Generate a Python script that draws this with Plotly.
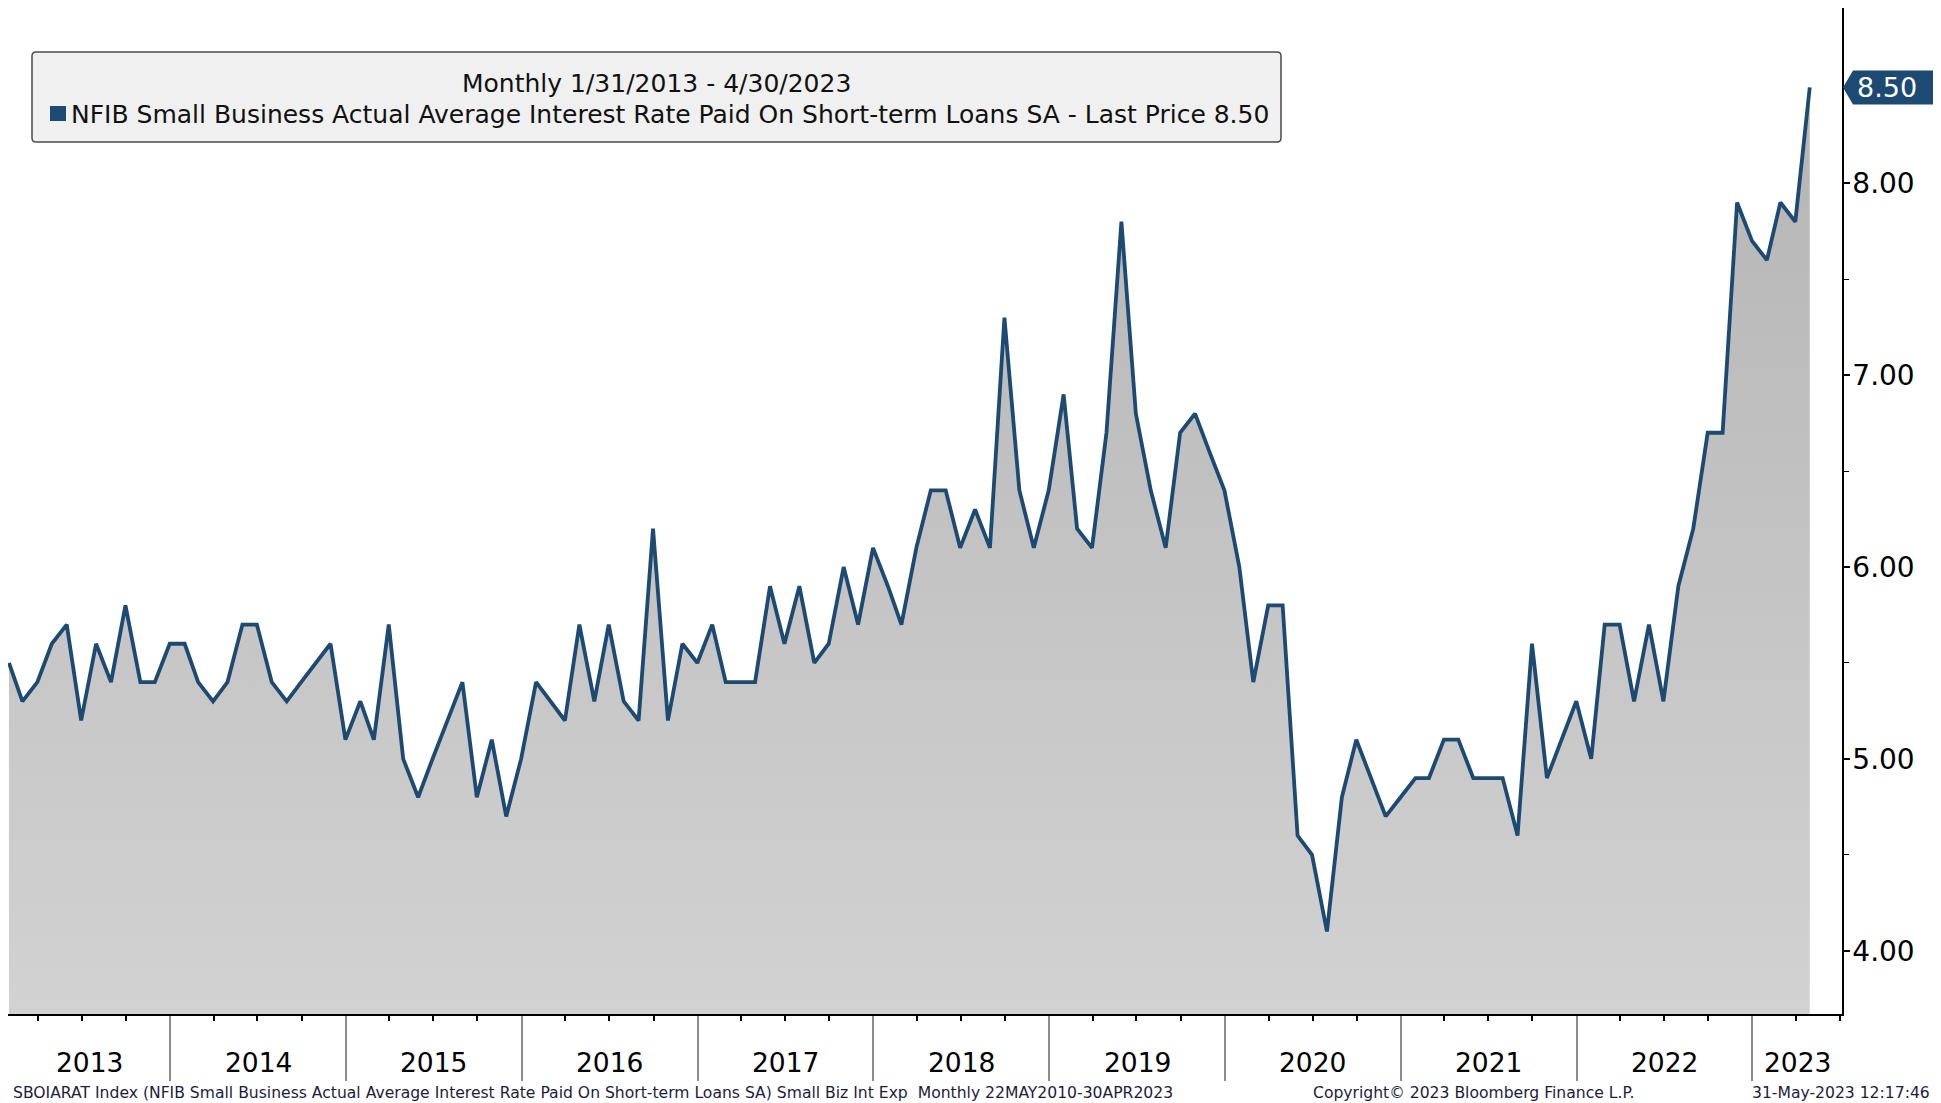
import pandas as pd
import plotly.graph_objects as go

# ---------------- data ----------------
start_month = "2013-01-31"
rates = [
    5.5, 5.3, 5.4, 5.6, 5.7, 5.2, 5.6, 5.4, 5.8, 5.4, 5.4, 5.6,   # 2013
    5.6, 5.4, 5.3, 5.4, 5.7, 5.7, 5.4, 5.3, 5.4, 5.5, 5.6, 5.1,   # 2014
    5.3, 5.1, 5.7, 5.0, 4.8, 5.0, 5.2, 5.4, 4.8, 5.1, 4.7, 5.0,   # 2015
    5.4, 5.3, 5.2, 5.7, 5.3, 5.7, 5.3, 5.2, 6.2, 5.2, 5.6, 5.5,   # 2016
    5.7, 5.4, 5.4, 5.4, 5.9, 5.6, 5.9, 5.5, 5.6, 6.0, 5.7, 6.1,   # 2017
    5.9, 5.7, 6.1, 6.4, 6.4, 6.1, 6.3, 6.1, 7.3, 6.4, 6.1, 6.4,   # 2018
    6.9, 6.2, 6.1, 6.7, 7.8, 6.8, 6.4, 6.1, 6.7, 6.8, 6.6, 6.4,   # 2019
    6.0, 5.4, 5.8, 5.8, 4.6, 4.5, 4.1, 4.8, 5.1, 4.9, 4.7, 4.8,   # 2020
    4.9, 4.9, 5.1, 5.1, 4.9, 4.9, 4.9, 4.6, 5.6, 4.9, 5.1, 5.3,   # 2021
    5.0, 5.7, 5.7, 5.3, 5.7, 5.3, 5.9, 6.2, 6.7, 6.7, 7.9, 7.7,   # 2022
    7.6, 7.9, 7.8, 8.5,                                           # 2023
]
dates = pd.date_range(start_month, periods=len(rates), freq=pd.offsets.MonthEnd())

years = list(range(2013, 2024))
year_labels = [str(y) for y in years]
y_major = [4, 5, 6, 7, 8]
y_minor = [4.5, 5.5, 6.5, 7.5]
y_labels = [f"{v:.2f}" for v in y_major]

legend_title = "Monthly 1/31/2013 - 4/30/2023"
series_name = "NFIB Small Business Actual Average Interest Rate Paid On Short-term Loans SA"
footer_left = ("SBOIARAT Index (NFIB Small Business Actual Average Interest Rate Paid On "
               "Short-term Loans SA) Small Biz Int Exp  Monthly 22MAY2010-30APR2023")
footer_mid = "Copyright\u00a9 2023 Bloomberg Finance L.P."
footer_right = "31-May-2023 12:17:46"

# ---------------- layout constants ----------------
OFF = 8                      # page body margin
W, H = 1941 - OFF, 1103 - OFF
ML, MR, MT, MB = 0, 99, 0, 89
PW = W - ML - MR
PH = H - MT - MB
YMIN, YMAX = 3.670, 8.914
XMIN, XMAX = pd.Timestamp("2013-01-29"), pd.Timestamp("2023-07-06")

NAVY = "#1d4a72"
FONT = "DejaVu Sans"


def px(X):  # page pixel -> paper x
    return (X - OFF - ML) / PW


def py(Y):  # page pixel -> paper y
    return (OFF + H - MB - Y) / PH


def rounded_rect(X0, Y0, X1, Y1, r):
    x0, x1, y0, y1 = px(X0), px(X1), py(Y1), py(Y0)
    rx, ry = r / PW, r / PH
    return (f"M {x0 + rx},{y0} L {x1 - rx},{y0} Q {x1},{y0} {x1},{y0 + ry} "
            f"L {x1},{y1 - ry} Q {x1},{y1} {x1 - rx},{y1} L {x0 + rx},{y1} "
            f"Q {x0},{y1} {x0},{y1 - ry} L {x0},{y0 + ry} Q {x0},{y0} {x0 + rx},{y0} Z")


fig = go.Figure()
fig.add_trace(go.Scatter(
    x=dates, y=rates, mode="lines",
    line=dict(color=NAVY, width=3.8),
    fill="tozeroy",
    fillgradient=dict(type="vertical",
                      colorscale=[[0, "#d2d2d2"], [1, "#b2b2b2"]],
                      start=YMIN, stop=YMAX),
    hoverinfo="skip", showlegend=False,
))

year_sep = [f"{y}-01-01" for y in years[1:]]
quarter_ticks = [f"{y}-{m:02d}-01" for y in years for m in (4, 7, 10)]

shapes = []
annotations = []

# legend box
shapes.append(dict(type="path", xref="paper", yref="paper",
                   path=rounded_rect(32, 52, 1281, 142, 4),
                   fillcolor="#f0f0f0", line=dict(color="#4a4a4a", width=1.5), layer="above"))
shapes.append(dict(type="rect", xref="paper", yref="paper",
                   x0=px(50), x1=px(66), y0=py(121), y1=py(106),
                   fillcolor=NAVY, line=dict(width=0), layer="above"))
annotations.append(dict(text=legend_title, xref="paper", yref="paper",
                        x=px(656.5), y=py(83), xanchor="center", yanchor="middle",
                        showarrow=False, font=dict(family=FONT, size=25, color="#111111")))
last = rates[-1]
annotations.append(dict(text=f"{series_name} - Last Price {last:.2f}", xref="paper", yref="paper",
                        x=px(69), y=py(114), xanchor="left", yanchor="middle",
                        showarrow=False, font=dict(family=FONT, size=25, color="#111111")))

# last price tag
yl = (last - YMIN) / (YMAX - YMIN)
hh = 17 / PH
xt, xb, xr = px(1843), px(1853), px(1934)
shapes.append(dict(type="path", xref="paper", yref="paper",
                   path=f"M {xt},{yl} L {xb},{yl + hh} L {xr},{yl + hh} L {xr},{yl - hh} L {xb},{yl - hh} Z",
                   fillcolor=NAVY, line=dict(width=0), layer="above"))
annotations.append(dict(text=f"{last:.2f}", xref="paper", yref="paper",
                        x=px(1855), y=yl, xanchor="left", yanchor="middle",
                        showarrow=False, font=dict(family=FONT, size=27, color="white")))

# year labels centred in visible portion of each year
for y, lab in zip(years, year_labels):
    a = max(pd.Timestamp(f"{y}-01-01"), XMIN)
    b = min(pd.Timestamp(f"{y + 1}-01-01"), XMAX)
    c = a + (b - a) / 2
    annotations.append(dict(text=lab, xref="x", yref="paper", x=c, y=py(1062),
                            xanchor="center", yanchor="middle", showarrow=False,
                            font=dict(family=FONT, size=26.5, color="black")))

# footer
for txt, X, anc in [(footer_left, 11, "left"), (footer_mid, 1311, "left"), (footer_right, 1932, "right")]:
    annotations.append(dict(text=txt, xref="paper", yref="paper", x=px(X), y=py(1093),
                            xanchor=anc, yanchor="middle", showarrow=False,
                            font=dict(family=FONT, size=15.6, color="#1c1c3c")))

fig.update_layout(
    width=W, height=H, autosize=False,
    margin=dict(l=ML, r=MR, t=MT, b=MB, pad=0),
    paper_bgcolor="white", plot_bgcolor="white",
    showlegend=False,
    xaxis=dict(type="date", range=[XMIN, XMAX], showgrid=False, zeroline=False,
               showline=True, linecolor="black", linewidth=1.5,
               tickmode="array", tickvals=year_sep, showticklabels=False,
               ticks="outside", ticklen=65, tickwidth=1.5, tickcolor="#8c8c8c",
               minor=dict(tickmode="array", tickvals=quarter_ticks, ticks="outside",
                          ticklen=5, tickwidth=1.5, tickcolor="black", showgrid=False)),
    yaxis=dict(side="right", range=[YMIN, YMAX], showgrid=False, zeroline=False,
               showline=True, linecolor="black", linewidth=1.5,
               tickmode="array", tickvals=y_major, ticktext=y_labels,
               ticks="outside", ticklen=6, tickwidth=2, tickcolor="black",
               ticklabelstandoff=-3,
               tickfont=dict(family=FONT, size=28, color="black"),
               minor=dict(tickmode="array", tickvals=y_minor, ticks="outside",
                          ticklen=5, tickwidth=1, tickcolor="black", showgrid=False)),
    shapes=shapes, annotations=annotations,
)

fig.write_html("out.html")
